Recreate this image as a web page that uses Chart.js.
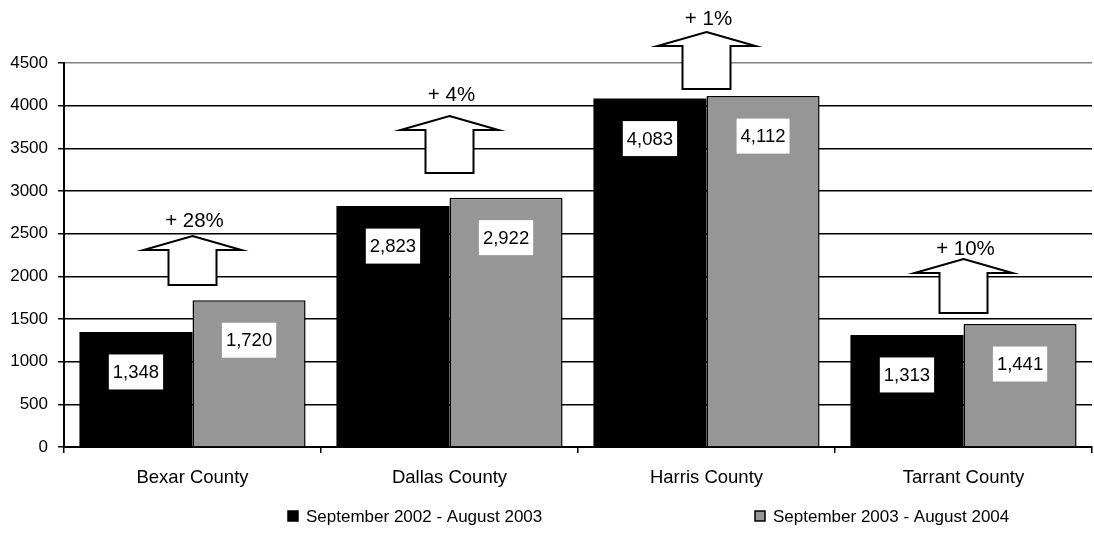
<!DOCTYPE html>
<html>
<head>
<meta charset="utf-8">
<script src="https://cdn.jsdelivr.net/npm/chart.js@4/dist/chart.umd.min.js"></script>
<style>
  body { margin: 0; background: #fff; }
  #wrap { width: 1094px; height: 543px; }
</style>
</head>
<body>
<div id="wrap"><canvas id="chart" width="1094" height="543"></canvas></div>
<script>
// Chart data
const counties = ['Bexar County', 'Dallas County', 'Harris County', 'Tarrant County'];
const seriesNames = ['September 2002 - August 2003', 'September 2003 - August 2004'];
const period1 = [1348, 2823, 4083, 1313];
const period2 = [1720, 2922, 4112, 1441];
// where the "increase" arrows and their captions sit, in axis units
const arrowBase = [1898, 3211, 4195, 1570];
const arrowTip = [2473, 3879, 4863, 2203];
const arrowText = [2648, 4125, 5016, 2320];

const FONT = '"Liberation Sans", Arial, sans-serif';
const barColors = ['#000000', '#969696'];

// White boxes with the bar values
const valueLabels = {
    id: 'valueLabels',
    afterDatasetsDraw(chart) {
        const ctx = chart.ctx;
        ctx.save();
        ctx.font = '18.5px ' + FONT;
        ctx.textAlign = 'center';
        ctx.textBaseline = 'middle';
        chart.data.datasets.forEach((ds, di) => {
            chart.getDatasetMeta(di).data.forEach((bar, i) => {
                const txt = ds.data[i].toLocaleString('en-US');
                const w = ctx.measureText(txt).width + 8;
                const h = 35;
                const cy = bar.y + 40;
                ctx.fillStyle = '#fff';
                ctx.fillRect(bar.x - w / 2, cy - h / 2, w, h);
                ctx.fillStyle = '#000';
                ctx.fillText(txt, bar.x, cy + 1);
            });
        });
        ctx.restore();
    }
};

// Up arrows with the percentage change, plus the legend
const annotations = {
    id: 'annotations',
    afterDraw(chart) {
        const ctx = chart.ctx;
        const xs = chart.scales.x, ys = chart.scales.y;
        ctx.save();
        counties.forEach((c, i) => {
            const cx = xs.getPixelForValue(i);
            const yb = ys.getPixelForValue(arrowBase[i]);
            const yt = ys.getPixelForValue(arrowTip[i]);
            const yh = yt + 14;
            ctx.beginPath();
            ctx.moveTo(cx, yt);
            ctx.lineTo(cx + 49, yh);
            ctx.lineTo(cx + 24, yh);
            ctx.lineTo(cx + 24, yb);
            ctx.lineTo(cx - 24, yb);
            ctx.lineTo(cx - 24, yh);
            ctx.lineTo(cx - 49, yh);
            ctx.closePath();
            ctx.fillStyle = '#fff';
            ctx.fill();
            ctx.lineWidth = 2;
            ctx.strokeStyle = '#000';
            ctx.lineJoin = 'miter';
            ctx.stroke();

            const pct = Math.round((period2[i] / period1[i] - 1) * 100);
            ctx.font = '20.5px ' + FONT;
            ctx.fillStyle = '#000';
            ctx.textAlign = 'center';
            ctx.textBaseline = 'middle';
            ctx.fillText('+ ' + pct + '%', cx + 2, ys.getPixelForValue(arrowText[i]));
        });

        // legend
        const lx = [288, 755];
        const ly = 516;
        ctx.font = '17px ' + FONT;
        ctx.textAlign = 'left';
        ctx.textBaseline = 'middle';
        seriesNames.forEach((name, i) => {
            ctx.fillStyle = barColors[i];
            ctx.fillRect(lx[i], ly - 5, 10, 10);
            ctx.lineWidth = 1.5;
            ctx.strokeStyle = '#000';
            ctx.strokeRect(lx[i], ly - 5, 10, 10);
            ctx.fillStyle = '#000';
            ctx.fillText(name, lx[i] + 18, ly + 1);
        });
        ctx.restore();
    }
};

function initChart() {
    const ctx = document.getElementById('chart').getContext('2d');

    new Chart(ctx, {
        type: 'bar',
        data: {
            labels: counties,
            datasets: [
                {
                    label: seriesNames[0],
                    data: period1,
                    backgroundColor: barColors[0],
                    borderWidth: 0
                },
                {
                    label: seriesNames[1],
                    data: period2,
                    backgroundColor: barColors[1],
                    borderColor: '#000',
                    borderWidth: 1.5
                }
            ]
        },
        options: {
            responsive: false,
            animation: false,
            layout: { padding: { top: 63, right: 2, left: 0, bottom: 56 } },
            datasets: {
                bar: { categoryPercentage: 0.88, barPercentage: 1.0 }
            },
            scales: {
                x: {
                    afterFit(scale) { scale.height = 40; },
                    grid: {
                        offset: true,
                        drawOnChartArea: false,
                        tickLength: 6,
                        color: '#000',
                        lineWidth: 1.5
                    },
                    border: { color: '#000', width: 2 },
                    ticks: {
                        color: '#000',
                        padding: 14,
                        font: { family: FONT, size: 18.5 }
                    }
                },
                y: {
                    min: 0,
                    max: 4500,
                    afterFit(scale) { scale.width = 64; },
                    grid: {
                        color: c => (c.tick && c.tick.value === 4500) ? '#808080' : '#000',
                        tickColor: '#000',
                        tickLength: 6,
                        lineWidth: 1.5
                    },
                    border: { color: '#000', width: 2 },
                    ticks: {
                        stepSize: 500,
                        color: '#000',
                        padding: 10,
                        font: { family: FONT, size: 17 },
                        callback: v => String(v)
                    }
                }
            },
            plugins: {
                legend: { display: false },
                tooltip: { enabled: false }
            }
        },
        plugins: [valueLabels, annotations]
    });
}

initChart();
</script>
</body>
</html>
